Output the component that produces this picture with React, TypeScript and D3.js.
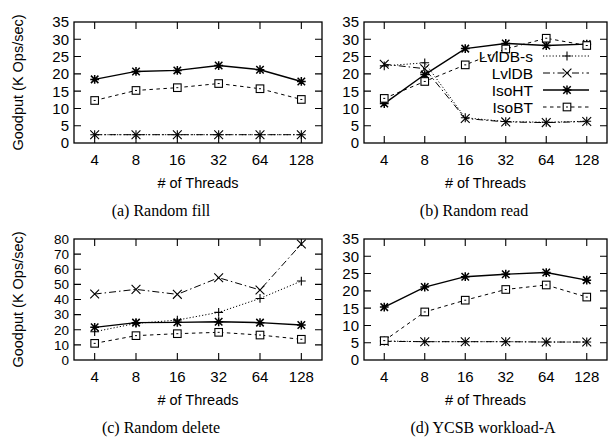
import React from 'react';
import * as d3 from 'd3';

const threads = ['4', '8', '16', '32', '64', '128'];
const seriesNames = ['LvlDB-s', 'LvlDB', 'IsoHT', 'IsoBT'];

// values in K Ops/sec, one array per series per panel
const fillLvlDBs = [2.4, 2.4, 2.4, 2.4, 2.4, 2.4];
const fillLvlDB = [2.4, 2.4, 2.4, 2.4, 2.4, 2.4];
const fillIsoHT = [18.4, 20.7, 21.0, 22.4, 21.2, 17.8];
const fillIsoBT = [12.3, 15.2, 16.0, 17.2, 15.7, 12.6];

const readLvlDBs = [22.3, 23.2, 7.3, 6.2, 6.0, 6.3];
const readLvlDB = [22.8, 21.5, 7.1, 6.1, 5.9, 6.2];
const readIsoHT = [11.4, 19.8, 27.3, 28.8, 28.2, 28.6];
const readIsoBT = [12.9, 17.8, 22.6, 27.2, 30.3, 28.2];

const delLvlDBs = [18.7, 24.2, 26.4, 31.5, 40.7, 52.2];
const delLvlDB = [43.6, 46.7, 43.4, 54.4, 46.3, 76.7];
const delIsoHT = [21.6, 24.7, 24.9, 25.3, 24.7, 23.1];
const delIsoBT = [11.0, 16.1, 17.4, 18.3, 16.5, 13.7];

const ycsbLvlDBs = [5.5, 5.3, 5.3, 5.3, 5.2, 5.2];
const ycsbLvlDB = [5.4, 5.3, 5.3, 5.3, 5.2, 5.2];
const ycsbIsoHT = [15.3, 21.1, 24.1, 24.8, 25.3, 23.1];
const ycsbIsoBT = [5.6, 13.9, 17.3, 20.4, 21.7, 18.2];

const styles = [
  { dash: '1.2,2', marker: 'plus' },
  { dash: '7,3,1.5,3', marker: 'cross' },
  { dash: null, marker: 'star' },
  { dash: '3.5,3.5', marker: 'square' },
];

const sans = '"Liberation Sans", Arial, Helvetica, sans-serif';
const serif = '"Liberation Serif", "Times New Roman", serif';

const Marker = ({ type, x, y }) => {
  const r = 4.4;
  const p = { stroke: '#000', strokeWidth: 1.1, fill: 'none' };
  if (type === 'plus') {
    return <path d={`M${x - r},${y}H${x + r}M${x},${y - r}V${y + r}`} {...p} />;
  }
  if (type === 'cross') {
    return <path d={`M${x - r},${y - r}L${x + r},${y + r}M${x - r},${y + r}L${x + r},${y - r}`} {...p} />;
  }
  if (type === 'star') {
    const k = r * 0.85;
    return (
      <path
        d={`M${x - r},${y}H${x + r}M${x},${y - r}V${y + r}M${x - k},${y - k}L${x + k},${y + k}M${x - k},${y + k}L${x + k},${y - k}`}
        stroke="#000"
        strokeWidth={1.5}
        fill="none"
      />
    );
  }
  const s = 3.8;
  return (
    <g>
      <rect x={x - s} y={y - s} width={s * 2} height={s * 2} fill="#fff" stroke="#000" strokeWidth={1.1} />
      <path d={`M${x - 1},${y}H${x + 1}`} stroke="#000" strokeWidth={1} />
    </g>
  );
};

const Panel = ({ box, yMax, yStep, yFont = 15, data, caption, yTitle, legend }) => {
  const { left, right, top, bottom } = box;
  const x = d3.scaleLinear().domain([-0.5, threads.length - 0.5]).range([left, right]);
  const y = d3.scaleLinear().domain([0, yMax]).range([bottom, top]);
  const yTicks = d3.range(0, yMax + 0.001, yStep);
  const tick = 7;
  const line = d3
    .line()
    .x((d, i) => x(i))
    .y((d) => y(d));

  return (
    <g>
      {data.map((vals, si) => (
        <path
          key={'l' + si}
          d={line(vals)}
          fill="none"
          stroke="#000"
          strokeWidth={si === 2 ? 1.4 : 1}
          strokeDasharray={styles[si].dash || undefined}
        />
      ))}
      {data.map((vals, si) =>
        vals.map((v, i) => <Marker key={'m' + si + '-' + i} type={styles[si].marker} x={x(i)} y={y(v)} />)
      )}
      <rect x={left} y={top} width={right - left} height={bottom - top} fill="none" stroke="#000" strokeWidth={1.3} />
      {yTicks.map((t) => (
        <g key={'y' + t}>
          {t > 0 && t < yMax && (
            <path
              d={`M${left},${y(t)}h${tick}M${right},${y(t)}h${-tick}`}
              stroke="#000"
              strokeWidth={1.1}
            />
          )}
          <text x={left - 5} y={y(t)} dy="0.36em" textAnchor="end" fontFamily={sans} fontSize={yFont}>
            {t}
          </text>
        </g>
      ))}
      {threads.map((t, i) => (
        <g key={'x' + t}>
          <path d={`M${x(i)},${bottom}v${-tick}M${x(i)},${top}v${tick}`} stroke="#000" strokeWidth={1.1} />
          <text x={x(i)} y={bottom + 22} textAnchor="middle" fontFamily={sans} fontSize={15}>
            {t}
          </text>
        </g>
      ))}
      <text x={(left + right) / 2} y={bottom + 45} textAnchor="middle" fontFamily={sans} fontSize={14.5}>
        # of Threads
      </text>
      <text x={caption.x} y={bottom + 73} textAnchor="middle" fontFamily={serif} fontSize={16}>
        {caption.text}
      </text>
      {yTitle && (
        <text
          transform={`translate(${23},${(top + bottom) / 2}) rotate(-90)`}
          textAnchor="middle"
          fontFamily={sans}
          fontSize={14.5}
        >
          Goodput (K Ops/sec)
        </text>
      )}
      {legend &&
        seriesNames.map((name, si) => {
          const ly = top + 34 + si * 17;
          const lx = right - 64;
          return (
            <g key={'lg' + si}>
              <text x={lx - 10} y={ly} dy="0.36em" textAnchor="end" fontFamily={sans} fontSize={15.5}>
                {name}
              </text>
              <path
                d={`M${lx},${ly}H${lx + 46}`}
                stroke="#000"
                strokeWidth={si === 2 ? 1.4 : 1}
                strokeDasharray={styles[si].dash || undefined}
              />
              <Marker type={styles[si].marker} x={lx + 24} y={ly} />
            </g>
          );
        })}
    </g>
  );
};

export default function App() {
  return (
    <svg width={609} height={444} style={{ position: 'absolute', left: 0, top: 0, background: '#fff' }}>
      <Panel
        box={{ left: 74, right: 322, top: 22, bottom: 143 }}
        yMax={35}
        yStep={5}
        data={[fillLvlDBs, fillLvlDB, fillIsoHT, fillIsoBT]}
        caption={{ x: 161, text: '(a) Random fill' }}
        yTitle
      />
      <Panel
        box={{ left: 364, right: 607, top: 22, bottom: 143 }}
        yMax={35}
        yStep={5}
        data={[readLvlDBs, readLvlDB, readIsoHT, readIsoBT]}
        caption={{ x: 474, text: '(b) Random read' }}
        legend
      />
      <Panel
        box={{ left: 74, right: 322, top: 239, bottom: 360 }}
        yMax={80}
        yStep={10}
        yFont={13.5}
        data={[delLvlDBs, delLvlDB, delIsoHT, delIsoBT]}
        caption={{ x: 161, text: '(c) Random delete' }}
        yTitle
      />
      <Panel
        box={{ left: 364, right: 607, top: 239, bottom: 360 }}
        yMax={35}
        yStep={5}
        data={[ycsbLvlDBs, ycsbLvlDB, ycsbIsoHT, ycsbIsoBT]}
        caption={{ x: 483, text: '(d) YCSB workload-A' }}
      />
    </svg>
  );
}
